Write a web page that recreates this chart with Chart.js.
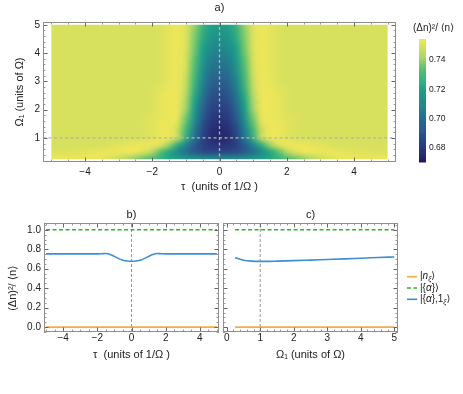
<!DOCTYPE html>
<html>
<head>
<meta charset="utf-8">
<script src="https://cdn.jsdelivr.net/npm/chart.js@4.4.1/dist/chart.umd.min.js"></script>
<style>
  html, body { margin: 0; padding: 0; background: #fff; }
  #page { position: relative; width: 463px; height: 394px; overflow: hidden; background: #fff; }
  #page canvas { position: absolute; }
</style>
</head>
<body>
<div id="page">
  <canvas id="heat-chart" width="463" height="200" style="left:0;top:0"></canvas>
  <canvas id="colorbar" width="63" height="150" style="left:400px;top:20px"></canvas>
  <canvas id="tau-chart" width="221" height="194" style="left:0;top:200px"></canvas>
  <canvas id="omega-chart" width="242" height="194" style="left:221px;top:200px"></canvas>
</div>
<script>
const FONT = "'Liberation Sans', 'DejaVu Sans', sans-serif";
const TEXT = "#222";

// density plot: tau >= 0 half (the map is symmetric in tau), one row per Omega_1
const tauHalf = [0, 0.25, 0.5, 0.75, 1, 1.25, 1.5, 1.75, 2, 2.25, 2.5, 2.75, 3, 3.25, 3.5, 3.75, 4, 4.25, 4.5, 4.75, 5];
const omegaRows = [0.25, 0.5, 0.75, 1, 1.25, 1.5, 1.75, 2, 2.25, 2.5, 2.75, 3, 3.25, 3.5, 3.75, 4, 4.25, 4.5, 4.75, 5];
const heatRows = [
  [0.712, 0.712, 0.713, 0.715, 0.717, 0.720, 0.723, 0.727, 0.731, 0.735, 0.739, 0.743, 0.747, 0.750, 0.753, 0.754, 0.755, 0.755, 0.755, 0.754, 0.754],
  [0.687, 0.687, 0.689, 0.694, 0.701, 0.711, 0.722, 0.733, 0.743, 0.750, 0.754, 0.755, 0.755, 0.754, 0.754, 0.753, 0.752, 0.752, 0.751, 0.751, 0.751],
  [0.679, 0.680, 0.684, 0.694, 0.708, 0.725, 0.740, 0.751, 0.755, 0.755, 0.754, 0.753, 0.752, 0.751, 0.750, 0.750, 0.750, 0.750, 0.750, 0.750, 0.750],
  [0.676, 0.678, 0.686, 0.703, 0.726, 0.746, 0.755, 0.754, 0.752, 0.751, 0.750, 0.750, 0.750, 0.750, 0.750, 0.750, 0.750, 0.750, 0.750, 0.750, 0.750],
  [0.676, 0.678, 0.687, 0.706, 0.729, 0.747, 0.755, 0.754, 0.752, 0.751, 0.750, 0.750, 0.750, 0.750, 0.750, 0.750, 0.750, 0.750, 0.750, 0.750, 0.750],
  [0.678, 0.680, 0.690, 0.711, 0.734, 0.751, 0.755, 0.754, 0.752, 0.751, 0.750, 0.750, 0.750, 0.750, 0.750, 0.750, 0.750, 0.750, 0.750, 0.750, 0.750],
  [0.680, 0.682, 0.694, 0.715, 0.737, 0.753, 0.755, 0.753, 0.752, 0.751, 0.750, 0.750, 0.750, 0.750, 0.750, 0.750, 0.750, 0.750, 0.750, 0.750, 0.750],
  [0.683, 0.685, 0.697, 0.718, 0.741, 0.754, 0.755, 0.753, 0.751, 0.750, 0.750, 0.750, 0.750, 0.750, 0.750, 0.750, 0.750, 0.750, 0.750, 0.750, 0.750],
  [0.686, 0.688, 0.700, 0.721, 0.742, 0.754, 0.755, 0.753, 0.751, 0.750, 0.750, 0.750, 0.750, 0.750, 0.750, 0.750, 0.750, 0.750, 0.750, 0.750, 0.750],
  [0.689, 0.691, 0.703, 0.724, 0.744, 0.754, 0.755, 0.753, 0.751, 0.750, 0.750, 0.750, 0.750, 0.750, 0.750, 0.750, 0.750, 0.750, 0.750, 0.750, 0.750],
  [0.692, 0.694, 0.706, 0.727, 0.746, 0.755, 0.754, 0.752, 0.751, 0.750, 0.750, 0.750, 0.750, 0.750, 0.750, 0.750, 0.750, 0.750, 0.750, 0.750, 0.750],
  [0.695, 0.697, 0.709, 0.729, 0.747, 0.755, 0.753, 0.751, 0.750, 0.750, 0.750, 0.750, 0.750, 0.750, 0.750, 0.750, 0.750, 0.750, 0.750, 0.750, 0.750],
  [0.698, 0.700, 0.712, 0.731, 0.748, 0.755, 0.753, 0.751, 0.750, 0.750, 0.750, 0.750, 0.750, 0.750, 0.750, 0.750, 0.750, 0.750, 0.750, 0.750, 0.750],
  [0.701, 0.703, 0.714, 0.733, 0.749, 0.755, 0.753, 0.751, 0.750, 0.750, 0.750, 0.750, 0.750, 0.750, 0.750, 0.750, 0.750, 0.750, 0.750, 0.750, 0.750],
  [0.704, 0.706, 0.717, 0.734, 0.750, 0.755, 0.753, 0.751, 0.750, 0.750, 0.750, 0.750, 0.750, 0.750, 0.750, 0.750, 0.750, 0.750, 0.750, 0.750, 0.750],
  [0.707, 0.709, 0.719, 0.736, 0.750, 0.755, 0.753, 0.751, 0.750, 0.750, 0.750, 0.750, 0.750, 0.750, 0.750, 0.750, 0.750, 0.750, 0.750, 0.750, 0.750],
  [0.710, 0.712, 0.721, 0.737, 0.751, 0.755, 0.753, 0.751, 0.750, 0.750, 0.750, 0.750, 0.750, 0.750, 0.750, 0.750, 0.750, 0.750, 0.750, 0.750, 0.750],
  [0.713, 0.715, 0.724, 0.738, 0.751, 0.755, 0.753, 0.751, 0.750, 0.750, 0.750, 0.750, 0.750, 0.750, 0.750, 0.750, 0.750, 0.750, 0.750, 0.750, 0.750],
  [0.716, 0.718, 0.726, 0.739, 0.751, 0.755, 0.753, 0.751, 0.750, 0.750, 0.750, 0.750, 0.750, 0.750, 0.750, 0.750, 0.750, 0.750, 0.750, 0.750, 0.750],
  [0.719, 0.721, 0.728, 0.741, 0.752, 0.755, 0.753, 0.751, 0.750, 0.750, 0.750, 0.750, 0.750, 0.750, 0.750, 0.750, 0.750, 0.750, 0.750, 0.750, 0.750],
];
const tauTicks = [-4, -2, 0, 2, 4];
const omegaTicks = [1, 2, 3, 4, 5];
const colorbarTicks = [0.68, 0.70, 0.72, 0.74];
const colorRange = [0.6705, 0.7542];
const markerTau = 0;
const markerOmega = 1;

// b) cut at Omega_1 = 1
const bTau = [-5, -4, -3, -2, -1.75, -1.5, -1.25, -1, -0.75, -0.5, -0.25, 0, 0.25, 0.5, 0.75, 1, 1.25, 1.5, 1.75, 2, 3, 4, 5];
const bMixed = [0.753, 0.753, 0.753, 0.753, 0.754, 0.756, 0.747, 0.727, 0.704, 0.687, 0.679, 0.677, 0.679, 0.687, 0.704, 0.727, 0.747, 0.756, 0.754, 0.753, 0.753, 0.753, 0.753];
const bTauEnds = [-5, 5];
// c) cut at tau = 0
const cOmega = [0.25, 0.5, 0.75, 1, 1.25, 1.5, 2, 2.5, 3, 3.5, 4, 4.5, 5];
const cMixed = [0.714, 0.688, 0.678, 0.676, 0.676, 0.678, 0.683, 0.689, 0.695, 0.701, 0.708, 0.715, 0.721];
const cOmegaEnds = [0.25, 5];
const fockLevel = [0, 0];
const coherentLevel = [1, 1];
const varianceTicks = [0, 0.2, 0.4, 0.6, 0.8, 1.0];
const bTauTicks = [-4, -2, 0, 2, 4];
const cOmegaTicks = [0, 1, 2, 3, 4, 5];
const seriesNames = ["|n_ξ⟩", "|{α}⟩", "|{α},1_ξ⟩"];

const tauAxis = { min: -5.25, max: 5.25 };
const omegaAxis = { min: 0.15, max: 5.1 };
const varAxis = { min: -0.05, max: 1.07 };

const colorStops = [
  [0.00, [32, 24, 90]],
  [0.13, [42, 58, 128]],
  [0.30, [42, 96, 142]],
  [0.45, [34, 131, 142]],
  [0.60, [31, 162, 134]],
  [0.75, [86, 191, 114]],
  [0.86, [172, 214, 104]],
  [0.94, [211, 224, 94]],
  [1.00, [236, 230, 90]],
];

function colorFor(v) {
  let t = (v - colorRange[0]) / (colorRange[1] - colorRange[0]);
  t = Math.min(1, Math.max(0, t));
  for (let i = 1; i < colorStops.length; i++) {
    const [t1, c1] = colorStops[i];
    if (t <= t1) {
      const [t0, c0] = colorStops[i - 1];
      const f = (t - t0) / (t1 - t0);
      return c0.map((c, k) => Math.round(c + (c1[k] - c) * f));
    }
  }
  return colorStops[colorStops.length - 1][1];
}

const fmtSigned = (v) => (v < 0 ? "−" + Math.abs(v) : String(v));
const points = (xs, ys) => xs.map((x, i) => ({ x, y: ys[i] }));

const heatmapPlugin = {
  id: "heatmap",
  beforeDatasetsDraw(chart) {
    const { ctx, scales: { x, y } } = chart;
    const half = tauHalf.length - 1;
    const cols = half * 2 + 1;
    const rows = omegaRows.length;
    const img = document.createElement("canvas");
    img.width = cols;
    img.height = rows;
    const ictx = img.getContext("2d");
    const pix = ictx.createImageData(cols, rows);
    for (let r = 0; r < rows; r++) {
      const row = heatRows[rows - 1 - r];
      for (let c = 0; c < cols; c++) {
        const rgb = colorFor(row[Math.abs(c - half)]);
        const k = (r * cols + c) * 4;
        pix.data[k] = rgb[0];
        pix.data[k + 1] = rgb[1];
        pix.data[k + 2] = rgb[2];
        pix.data[k + 3] = 255;
      }
    }
    ictx.putImageData(pix, 0, 0);

    const tauMax = tauHalf[half];
    const dTau = tauHalf[1] - tauHalf[0];
    const omMin = omegaRows[0];
    const omMax = omegaRows[rows - 1];
    const dOm = omegaRows[1] - omegaRows[0];
    const x0 = x.getPixelForValue(-tauMax - dTau / 2);
    const x1 = x.getPixelForValue(tauMax + dTau / 2);
    const y0 = y.getPixelForValue(omMax + dOm / 2);
    const y1 = y.getPixelForValue(omMin - dOm / 2);

    ctx.save();
    ctx.beginPath();
    const cl = x.getPixelForValue(-tauMax);
    const ct = y.getPixelForValue(omMax);
    ctx.rect(cl, ct, x.getPixelForValue(tauMax) - cl, y.getPixelForValue(omMin) - ct);
    ctx.clip();
    ctx.imageSmoothingEnabled = true;
    ctx.imageSmoothingQuality = "high";
    ctx.drawImage(img, x0, y0, x1 - x0, y1 - y0);
    ctx.restore();
  },
};

// Mathematica style frame: box with inward major / minor ticks on all sides
const framePlugin = {
  id: "frameTicks",
  afterDatasetsDraw(chart, args, opts) {
    const { ctx, chartArea: a, scales: { x, y } } = chart;
    ctx.save();
    ctx.lineWidth = 1;
    const tickX = (v, len, color) => {
      const px = Math.round(x.getPixelForValue(v)) + 0.5;
      ctx.strokeStyle = color;
      ctx.beginPath();
      ctx.moveTo(px, a.bottom); ctx.lineTo(px, a.bottom - len);
      ctx.moveTo(px, a.top); ctx.lineTo(px, a.top + len);
      ctx.stroke();
    };
    const tickY = (v, len, color) => {
      const py = Math.round(y.getPixelForValue(v)) + 0.5;
      ctx.strokeStyle = color;
      ctx.beginPath();
      ctx.moveTo(a.left, py); ctx.lineTo(a.left + len, py);
      ctx.moveTo(a.right, py); ctx.lineTo(a.right - len, py);
      ctx.stroke();
    };
    const minors = (scale, step, majors) => {
      const out = [];
      for (let v = Math.ceil(scale.min / step) * step; v <= scale.max + 1e-9; v += step) {
        if (!majors.some((m) => Math.abs(m.value - v) < 1e-6)) out.push(v);
      }
      return out;
    };
    minors(x, opts.xMinor, x.ticks).forEach((v) => tickX(v, 2.5, "#9a9a9a"));
    minors(y, opts.yMinor, y.ticks).forEach((v) => tickY(v, 2.5, "#9a9a9a"));
    x.ticks.forEach((t) => tickX(t.value, 4.5, "#666"));
    y.ticks.forEach((t) => tickY(t.value, 4.5, "#666"));
    ctx.strokeStyle = "#8e8e8e";
    ctx.strokeRect(a.left + 0.5, a.top + 0.5, a.right - a.left - 1, a.bottom - a.top - 1);
    ctx.restore();
  },
};

const panelTitlePlugin = {
  id: "panelTitle",
  afterDraw(chart, args, opts) {
    const { ctx, chartArea: a } = chart;
    ctx.save();
    ctx.fillStyle = TEXT;
    ctx.font = `11px ${FONT}`;
    ctx.textAlign = "center";
    ctx.textBaseline = "middle";
    ctx.fillText(opts.text, (a.left + a.right) / 2, a.top - opts.offset);
    ctx.restore();
  },
};

function drawRich(ctx, label, x, y, size) {
  let cx = x;
  for (let i = 0; i < label.length; i++) {
    let ch = label[i];
    let sub = false;
    if (ch === "_") { sub = true; i++; ch = label[i]; }
    const italic = "nαξ".includes(ch);
    const s = sub ? size * 0.72 : size;
    ctx.font = `${italic ? "italic " : ""}${s}px ${FONT}`;
    ctx.fillText(ch, cx, y + (sub ? 2.5 : 0));
    cx += ctx.measureText(ch).width;
  }
}

const sideLegendPlugin = {
  id: "sideLegend",
  afterDraw(chart, args, opts) {
    const { ctx } = chart;
    ctx.save();
    ctx.fillStyle = TEXT;
    ctx.textBaseline = "middle";
    seriesNames.forEach((name, i) => {
      const ds = chart.data.datasets[i];
      const y = opts.top + i * opts.gap;
      ctx.strokeStyle = ds.borderColor;
      ctx.lineWidth = ds.borderWidth;
      ctx.setLineDash(ds.borderDash || []);
      ctx.beginPath();
      ctx.moveTo(opts.left, y);
      ctx.lineTo(opts.left + 10, y);
      ctx.stroke();
      ctx.setLineDash([]);
      drawRich(ctx, name, opts.left + 13, y, 10);
    });
    ctx.restore();
  },
};

const colorbarPlugin = {
  id: "colorbarFill",
  beforeDatasetsDraw(chart) {
    const { ctx, chartArea: a, scales: { y } } = chart;
    const bands = 64;
    const step = (colorRange[1] - colorRange[0]) / bands;
    ctx.save();
    for (let i = 0; i < bands; i++) {
      const v0 = colorRange[0] + i * step;
      const top = y.getPixelForValue(v0 + step);
      const bottom = y.getPixelForValue(v0);
      ctx.fillStyle = `rgb(${colorFor(v0 + step / 2).join(",")})`;
      ctx.fillRect(a.left, top, a.right - a.left, bottom - top + 0.6);
    }
    ctx.fillStyle = TEXT;
    ctx.font = `10px ${FONT}`;
    ctx.textAlign = "center";
    ctx.textBaseline = "middle";
    ctx.fillText("(Δn)²/ ⟨n⟩", 33.5, 8.5);
    ctx.restore();
  },
};

const tickFont = { family: FONT, size: 10 };
const titleFont = { family: FONT, size: 11 };
const noGrid = { display: false, drawTicks: false };
const noBorder = { display: false };
const basePlugins = { legend: { display: false }, tooltip: { enabled: false } };

// a) density plot
new Chart(document.getElementById("heat-chart"), {
  type: "scatter",
  data: {
    datasets: [
      {
        data: points([markerTau, markerTau], [omegaAxis.min, omegaAxis.max]),
        showLine: true, borderColor: "#b2b2b2", borderWidth: 1.3, borderDash: [3, 2.5], pointRadius: 0,
      },
      {
        data: points([tauAxis.min, tauAxis.max], [markerOmega, markerOmega]),
        showLine: true, borderColor: "#b2b2b2", borderWidth: 1.3, borderDash: [3, 2.5], pointRadius: 0,
      },
    ],
  },
  options: {
    responsive: false,
    animation: false,
    layout: { padding: { top: 22, right: 67, left: 0, bottom: 0 } },
    plugins: { ...basePlugins, frameTicks: { xMinor: 0.5, yMinor: 0.2 }, panelTitle: { text: "a)", offset: 14 } },
    scales: {
      x: {
        type: "linear", min: tauAxis.min, max: tauAxis.max, grid: noGrid, border: noBorder,
        afterBuildTicks: (s) => { s.ticks = tauTicks.map((value) => ({ value })); },
        afterFit: (s) => { s.height = 38; },
        ticks: { padding: 4, color: TEXT, font: tickFont, maxRotation: 0, callback: fmtSigned },
        title: { display: true, text: "τ  (units of 1/Ω )", color: TEXT, font: titleFont, padding: { top: 0, bottom: 6.7 } },
      },
      y: {
        type: "linear", min: omegaAxis.min, max: omegaAxis.max, grid: noGrid, border: noBorder,
        afterBuildTicks: (s) => { s.ticks = omegaTicks.map((value) => ({ value })); },
        afterFit: (s) => { s.width = 43; },
        ticks: { padding: 3, color: TEXT, font: tickFont, callback: (v) => String(v) },
        title: { display: true, text: "Ω₁ (units of Ω)", color: TEXT, font: titleFont, padding: { top: 13.4, bottom: 0 } },
      },
    },
  },
  plugins: [heatmapPlugin, framePlugin, panelTitlePlugin],
});

// colour scale
new Chart(document.getElementById("colorbar"), {
  type: "scatter",
  data: { datasets: [{ data: [] }] },
  options: {
    responsive: false,
    animation: false,
    layout: { padding: { top: 19, left: 19, bottom: 7, right: 0 } },
    plugins: basePlugins,
    scales: {
      x: { type: "linear", display: false },
      y: {
        type: "linear", position: "right", min: colorRange[0], max: colorRange[1], grid: noGrid, border: noBorder,
        afterBuildTicks: (s) => { s.ticks = colorbarTicks.map((value) => ({ value })); },
        afterFit: (s) => { s.width = 37; },
        ticks: { padding: 3, color: TEXT, font: { family: FONT, size: 8.5 }, callback: (v) => v.toFixed(2) },
      },
    },
  },
  plugins: [colorbarPlugin],
});

function lineSets(xEnds, xs, mixed, marker) {
  return [
    { data: points(xEnds, fockLevel), borderColor: "#f7ad45", borderWidth: 1.7, order: 2 },
    { data: points(xEnds, coherentLevel), borderColor: "#2fb52f", borderWidth: 1.5, borderDash: [4, 2.5], order: 1 },
    { data: points(xs, mixed), borderColor: "#3d8ed8", borderWidth: 1.6, cubicInterpolationMode: "monotone", order: 0 },
    { data: points([marker, marker], [varAxis.min, varAxis.max]), borderColor: "#7a7a7a", borderWidth: 0.8, borderDash: [3, 2], order: 3 },
  ].map((d) => ({ showLine: true, pointRadius: 0, ...d }));
}

// b) cut along tau
new Chart(document.getElementById("tau-chart"), {
  type: "scatter",
  data: { datasets: lineSets(bTauEnds, bTau, bMixed, markerTau) },
  options: {
    responsive: false,
    animation: false,
    layout: { padding: { top: 23, right: 2, left: 0, bottom: 0 } },
    plugins: { ...basePlugins, frameTicks: { xMinor: 0.5, yMinor: 0.05 }, panelTitle: { text: "b)", offset: 8 } },
    scales: {
      x: {
        type: "linear", min: -5.12, max: 5.12, grid: noGrid, border: noBorder,
        afterBuildTicks: (s) => { s.ticks = bTauTicks.map((value) => ({ value })); },
        afterFit: (s) => { s.height = 62; },
        ticks: { padding: 0, color: TEXT, font: tickFont, maxRotation: 0, callback: fmtSigned },
        title: { display: true, text: "τ  (units of 1/Ω )", color: TEXT, font: titleFont, padding: { top: 0, bottom: 32.4 } },
      },
      y: {
        type: "linear", min: varAxis.min, max: varAxis.max, grid: noGrid, border: noBorder,
        afterBuildTicks: (s) => { s.ticks = varianceTicks.map((value) => ({ value })); },
        afterFit: (s) => { s.width = 44; },
        ticks: { padding: 3, color: TEXT, font: tickFont, callback: (v) => v.toFixed(1) },
        // trailing spaces push the visible text slightly below the axis middle, as in the original
        title: { display: true, text: "(Δn)²/ ⟨n⟩       ", color: TEXT, font: titleFont, padding: { top: 6, bottom: 0 } },
      },
    },
  },
  plugins: [framePlugin, panelTitlePlugin],
});

// c) cut along Omega_1
new Chart(document.getElementById("omega-chart"), {
  type: "scatter",
  data: { datasets: lineSets(cOmegaEnds, cOmega, cMixed, markerOmega) },
  options: {
    responsive: false,
    animation: false,
    layout: { padding: { top: 23, right: 65, left: 0, bottom: 0 } },
    plugins: {
      ...basePlugins,
      frameTicks: { xMinor: 0.2, yMinor: 0.05 },
      panelTitle: { text: "c)", offset: 8 },
      sideLegend: { left: 186, top: 76.7, gap: 11.3 },
    },
    scales: {
      x: {
        type: "linear", min: -0.11, max: 5.11, grid: noGrid, border: noBorder,
        afterBuildTicks: (s) => { s.ticks = cOmegaTicks.map((value) => ({ value })); },
        afterFit: (s) => { s.height = 62; },
        ticks: { padding: 0, color: TEXT, font: tickFont, maxRotation: 0, callback: (v) => String(v) },
        title: { display: true, text: "Ω₁ (units of Ω)", color: TEXT, font: titleFont, padding: { top: 0, bottom: 32.4 } },
      },
      y: {
        type: "linear", min: varAxis.min, max: varAxis.max, grid: noGrid, border: noBorder,
        afterBuildTicks: (s) => { s.ticks = varianceTicks.map((value) => ({ value })); },
        afterFit: (s) => { s.width = 2; },
        ticks: { display: false },
      },
    },
  },
  plugins: [framePlugin, panelTitlePlugin, sideLegendPlugin],
});
</script>
</body>
</html>
